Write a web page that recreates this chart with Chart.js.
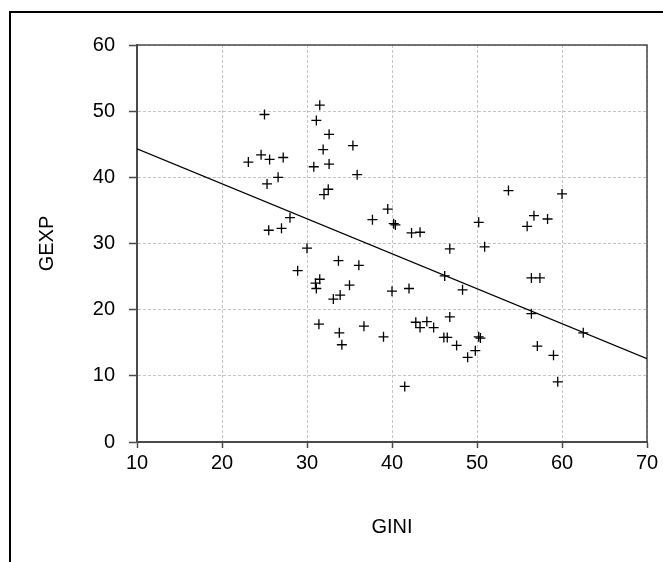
<!DOCTYPE html>
<html>
<head>
<meta charset="utf-8">
<title>GEXP vs GINI</title>
<script src="https://cdn.jsdelivr.net/npm/chart.js@4/dist/chart.umd.min.js"></script>
<style>
    body{ margin:0; background:#fff; }
    #frame{ position:absolute; left:9px; top:11px; width:700px; height:600px; border:2px solid #000; }
    #myChart{ position:absolute; left:0; top:0; }
</style>
</head>
<body>
<div id="frame"></div>
<canvas id="myChart" width="663" height="562"></canvas>
<script>
// 산점도 데이터 (GINI, GEXP)
const gini = [
    31.5, 25.0, 31.1, 32.6, 35.4, 31.9, 24.6, 23.1, 25.6, 27.2,
    30.8, 32.6, 35.9, 26.6, 25.3, 32.5, 32.0, 28.0, 25.5, 27.0,
    37.7, 30.0, 33.7, 36.1, 28.9, 53.7, 39.5, 40.2, 40.4, 42.3,
    43.3, 50.2, 46.8, 50.9, 46.2, 40.0, 42.0, 48.3, 31.5, 31.0,
    31.1, 35.0, 33.9, 33.1, 31.4, 33.8, 34.1, 36.7, 39.0, 42.8,
    43.3, 44.1, 44.9, 46.8, 46.1, 46.5, 47.6, 48.9, 49.8, 50.2,
    50.4, 41.5, 60.0, 56.7, 58.3, 55.9, 56.4, 57.4, 56.4, 62.5,
    57.1, 59.0, 59.5
];
const gexp = [
    50.9, 49.5, 48.6, 46.5, 44.8, 44.2, 43.4, 42.3, 42.7, 43.0,
    41.6, 42.0, 40.4, 40.0, 39.0, 38.2, 37.4, 33.9, 32.0, 32.3,
    33.6, 29.3, 27.4, 26.7, 25.9, 38.0, 35.2, 33.0, 32.8, 31.6,
    31.7, 33.2, 29.2, 29.5, 25.1, 22.8, 23.2, 23.0, 24.6, 24.0,
    23.2, 23.7, 22.2, 21.6, 17.8, 16.5, 14.7, 17.5, 15.9, 18.1,
    17.3, 18.2, 17.3, 18.9, 15.8, 15.8, 14.6, 12.8, 13.8, 15.9,
    15.7, 8.4, 37.5, 34.2, 33.7, 32.6, 24.8, 24.8, 19.4, 16.5,
    14.5, 13.1, 9.1
];

// 회귀선 (그림에서 읽은 양 끝 값)
const fitX = [10, 70];
const fitY = [44.3, 12.6];

const xTicks = [10, 20, 30, 40, 50, 60, 70];
const yTicks = [0, 10, 20, 30, 40, 50, 60];

const FONT = { family: 'Arial, "Liberation Sans", sans-serif', size: 20 };
const AXIS = '#4a4a4a';
const GRID = '#c4c4c4';

const points = gini.map((x, i) => ({ x: x, y: gexp[i] }));
const fitLine = fitX.map((x, i) => ({ x: x, y: fitY[i] }));

// 플롯 영역 위/오른쪽 테두리
const boxPlugin = {
    id: 'plotBox',
    beforeDatasetsDraw(chart){
        const { ctx, chartArea: a } = chart;
        ctx.save();
        ctx.strokeStyle = AXIS;
        ctx.lineWidth = 1.5;
        ctx.beginPath();
        ctx.moveTo(a.left, a.top);
        ctx.lineTo(a.right, a.top);
        ctx.lineTo(a.right, a.bottom);
        ctx.stroke();
        ctx.restore();
    }
};

const config = {
    type: 'scatter',
    data: {
        datasets: [
            {
                data: points,
                pointStyle: 'cross',
                pointRadius: 5,
                pointBorderWidth: 1.3,
                borderColor: '#000',
                backgroundColor: '#000'
            },
            {
                type: 'line',
                data: fitLine,
                borderColor: '#000',
                borderWidth: 1.2,
                pointRadius: 0,
                fill: false
            }
        ]
    },
    options: {
        responsive: false,
        animation: false,
        devicePixelRatio: 1,
        layout: { padding: { top: 45, right: 16, left: 0, bottom: 0 } },
        plugins: {
            legend: { display: false },
            tooltip: { enabled: false }
        },
        scales: {
            x: {
                type: 'linear',
                min: 10,
                max: 70,
                afterBuildTicks: (scale) => { scale.ticks = xTicks.map(v => ({ value: v })); },
                afterFit: (scale) => { scale.height = 120; },
                ticks: { color: '#000', font: FONT, padding: 3, maxRotation: 0 },
                grid: { color: GRID, lineWidth: 1, tickColor: AXIS, tickLength: 6, tickWidth: 1.5, tickBorderDash: [] },
                border: { color: AXIS, width: 2, dash: [3, 2] },
                title: { display: true, text: 'GINI', color: '#000', font: FONT, padding: { top: 0, bottom: 23 } }
            },
            y: {
                min: 0,
                max: 60,
                afterBuildTicks: (scale) => { scale.ticks = yTicks.map(v => ({ value: v })); },
                afterFit: (scale) => { scale.width = 137; },
                ticks: { color: '#000', font: FONT, padding: 14 },
                grid: { color: GRID, lineWidth: 1, tickColor: AXIS, tickLength: 8, tickWidth: 1.5, tickBorderDash: [] },
                border: { color: AXIS, width: 2, dash: [3, 2] },
                title: { display: true, text: 'GEXP', color: '#000', font: FONT, padding: { top: 35, bottom: 0 } }
            }
        }
    },
    plugins: [boxPlugin]
};

const myChart = new Chart(document.getElementById('myChart'), config);
</script>
</body>
</html>
